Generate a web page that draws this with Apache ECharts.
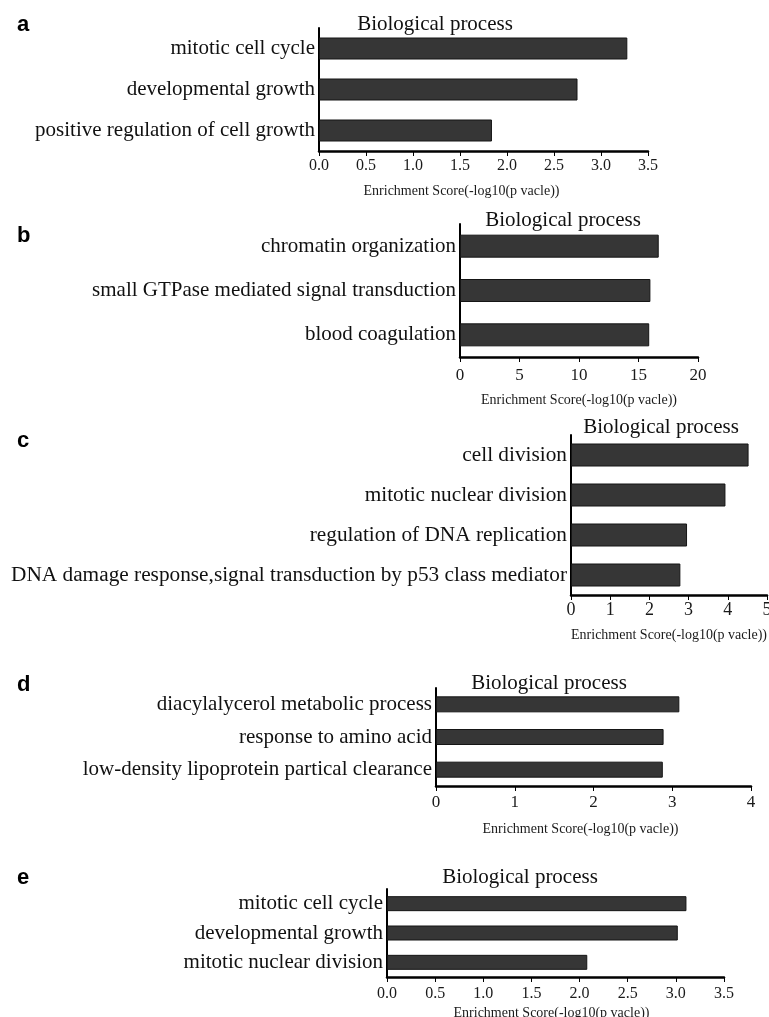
<!DOCTYPE html>
<html>
<head>
<meta charset="utf-8">
<script src="https://cdn.jsdelivr.net/npm/echarts@6/dist/echarts.min.js"></script>
<style>
  html, body { margin: 0; padding: 0; background: #fff; }
  #main { width: 769px; height: 1017px; }
</style>
</head>
<body>
<div id="main"></div>
<script>
// panel data
var catsA = ['mitotic cell cycle', 'developmental growth', 'positive regulation of cell growth'];
var valsA = [3.28, 2.75, 1.84];
var ticksA = ['0.0', '0.5', '1.0', '1.5', '2.0', '2.5', '3.0', '3.5'];

var catsB = ['chromatin organization', 'small GTPase mediated signal transduction', 'blood coagulation'];
var valsB = [16.7, 16.0, 15.9];
var ticksB = ['0', '5', '10', '15', '20'];

var catsC = ['cell division', 'mitotic nuclear division', 'regulation of DNA replication',
  'DNA damage response,signal transduction by p53 class mediator'];
var valsC = [4.53, 3.94, 2.96, 2.79];
var ticksC = ['0', '1', '2', '3', '4', '5'];

var catsD = ['diacylalycerol metabolic process', 'response to amino acid', 'low-density lipoprotein partical clearance'];
var valsD = [3.09, 2.89, 2.88];
var ticksD = ['0', '1', '2', '3', '4'];

var catsE = ['mitotic cell cycle', 'developmental growth', 'mitotic nuclear division'];
var valsE = [3.11, 3.02, 2.08];
var ticksE = ['0.0', '0.5', '1.0', '1.5', '2.0', '2.5', '3.0', '3.5'];

var SERIF = '"Liberation Serif", "Times New Roman", serif';
var axisName = 'Enrichment Score(-log10(p vacle))';

var chart = echarts.init(document.getElementById('main'));

// layout of each panel
var panels = [
  { cats: catsA, vals: valsA, ticks: ticksA, step: 0.5, left: 319, width: 329, top: 28, height: 123, bar: 22, labelSize: 21,
    tickSize: 16, tickMargin: 7, nameGap: 33, namePad: 44, letter: 'a', letterY: 22, titleX: 430, titleY: 22 },
  { cats: catsB, vals: valsB, ticks: ticksB, step: 5, left: 460, width: 238, top: 224, height: 133, bar: 23, labelSize: 21,
    tickSize: 17, tickMargin: 10, nameGap: 36, namePad: 0, letter: 'b', letterY: 233, titleX: 558, titleY: 218 },
  { cats: catsC, vals: valsC, ticks: ticksC, step: 1, left: 571, width: 196, top: 435, height: 160, bar: 23, labelSize: 21.3,
    tickSize: 18, tickMargin: 6, nameGap: 33, namePad: 0, letter: 'c', letterY: 438, titleX: 656, titleY: 425 },
  { cats: catsD, vals: valsD, ticks: ticksD, step: 1, left: 436, width: 315, top: 688, height: 98, bar: 16, labelSize: 21,
    tickSize: 17, tickMargin: 8, nameGap: 36, namePad: 26, letter: 'd', letterY: 682, titleX: 544, titleY: 681 },
  { cats: catsE, vals: valsE, ticks: ticksE, step: 0.5, left: 387, width: 337, top: 889, height: 88, bar: 15, labelSize: 21,
    tickSize: 16, tickMargin: 9, nameGap: 29, namePad: 8, letter: 'e', letterY: 875, titleX: 515, titleY: 875 }
];

var grid = [], xAxis = [], yAxis = [], series = [], title = [];

panels.forEach(function (p, i) {
  grid.push({ left: p.left, top: p.top, width: p.width, height: p.height, outerBoundsMode: 'none', containLabel: false });

  var maxV = (p.ticks.length - 1) * p.step;
  xAxis.push({
    type: 'value', gridIndex: i, min: 0, max: maxV, interval: p.step,
    splitLine: { show: false },
    axisLine: { show: true, lineStyle: { color: '#000', width: 2.5 } },
    axisTick: { show: true, length: 5, lineStyle: { color: '#000', width: 1 } },
    axisLabel: {
      color: '#1a1a1a', fontFamily: SERIF, fontSize: p.tickSize, margin: p.tickMargin,
      formatter: function (v) { return p.ticks[Math.round(v / p.step)]; }
    },
    name: axisName, nameLocation: 'middle', nameGap: p.nameGap,
    nameTextStyle: { color: '#1a1a1a', fontFamily: SERIF, fontSize: 14, padding: [0, p.namePad, 0, 0] }
  });

  yAxis.push({
    type: 'category', gridIndex: i, data: p.cats, inverse: true,
    axisLine: { show: true, lineStyle: { color: '#000', width: 2 } },
    axisTick: { show: true, inside: true, length: 4, alignWithLabel: true, lineStyle: { color: '#333' } },
    axisLabel: { color: '#111', fontFamily: SERIF, fontSize: p.labelSize, margin: 4, interval: 0 }
  });

  series.push({
    type: 'bar', xAxisIndex: i, yAxisIndex: i, data: p.vals, barWidth: p.bar,
    itemStyle: { color: '#363636', borderColor: '#151515', borderWidth: 1 },
    silent: true
  });

  title.push({
    text: 'Biological process', left: p.titleX, top: p.titleY - 13, textAlign: 'center',
    textStyle: { fontFamily: SERIF, fontSize: 21, fontWeight: 'normal', color: '#111' }
  });
  title.push({
    text: p.letter, left: 12, top: p.letterY - 13,
    textStyle: { fontFamily: '"Liberation Sans", Arial, sans-serif', fontSize: 22, fontWeight: 'bold', color: '#000' }
  });
});

chart.setOption({
  backgroundColor: '#fff',
  animation: false,
  title: title,
  grid: grid,
  xAxis: xAxis,
  yAxis: yAxis,
  series: series
});
</script>
</body>
</html>
